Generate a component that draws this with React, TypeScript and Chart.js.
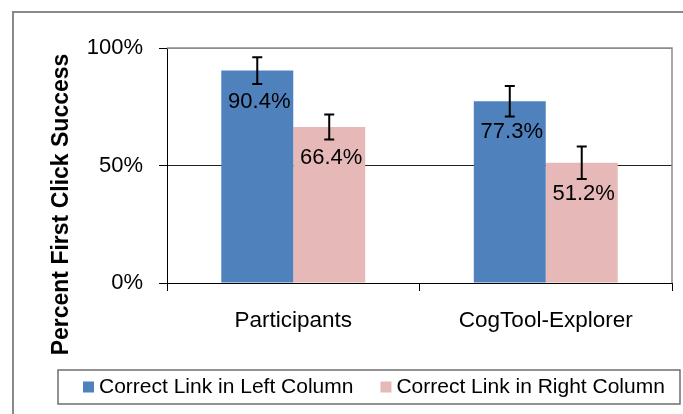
import React, { useEffect, useRef } from 'react';
import { Chart, registerables } from 'chart.js';

Chart.register(...registerables);

const categories = ['Participants', 'CogTool-Explorer'];
const seriesNames = ['Correct Link in Left Column', 'Correct Link in Right Column'];
const leftColumn = [90.4, 77.3];
const rightColumn = [66.4, 51.2];
const leftErr = [5.7, 6.5];
const rightErr = [5.3, 6.9];
const yTicks = [0, 50, 100];
const yTitle = 'Percent First Click Success';
const seriesColors = ['#4F81BD', '#E6B9B8'];

const FONT = '"Liberation Sans", Arial, sans-serif';

const decorPlugin = {
  id: 'decor',
  beforeDraw(chart: any) {
    const ctx = chart.ctx;
    ctx.save();
    ctx.fillStyle = '#ffffff';
    ctx.fillRect(0, 0, chart.width, chart.height);
    ctx.strokeStyle = '#898989';
    ctx.lineWidth = 2;
    ctx.strokeRect(13, 12, chart.width + 20, chart.height + 20);
    ctx.restore();
  },
  afterDatasetsDraw(chart: any) {
    const ctx = chart.ctx;
    const area = chart.chartArea;
    const yScale = chart.scales.y;
    ctx.save();
    // plot area top/right border
    ctx.strokeStyle = '#8c8c8c';
    ctx.lineWidth = 1.5;
    ctx.beginPath();
    ctx.moveTo(area.left, area.top);
    ctx.lineTo(area.right, area.top);
    ctx.lineTo(area.right, area.bottom);
    ctx.stroke();

    chart.data.datasets.forEach((ds: any, di: number) => {
      const meta = chart.getDatasetMeta(di);
      const errs = di === 0 ? leftErr : rightErr;
      meta.data.forEach((bar: any, i: number) => {
        const v = ds.data[i];
        const e = errs[i];
        const x = bar.x;
        const yTop = yScale.getPixelForValue(v + e);
        const yBot = yScale.getPixelForValue(v - e);
        ctx.strokeStyle = '#000';
        ctx.lineWidth = 2;
        ctx.beginPath();
        ctx.moveTo(x, yTop);
        ctx.lineTo(x, yBot);
        ctx.moveTo(x - 5, yTop);
        ctx.lineTo(x + 5, yTop);
        ctx.moveTo(x - 5, yBot);
        ctx.lineTo(x + 5, yBot);
        ctx.stroke();
        ctx.font = `22px ${FONT}`;
        ctx.fillStyle = '#000';
        ctx.textAlign = 'center';
        ctx.textBaseline = 'middle';
        ctx.fillText(v.toFixed(1) + '%', x + 2, bar.y + 31);
      });
    });
    ctx.restore();
  },
  afterDraw(chart: any) {
    const ctx = chart.ctx;
    ctx.save();
    // y axis title
    ctx.translate(68, 204.5);
    ctx.rotate(-Math.PI / 2);
    ctx.font = `bold 23px ${FONT}`;
    ctx.fillStyle = '#000';
    ctx.textAlign = 'center';
    ctx.textBaseline = 'alphabetic';
    ctx.fillText(yTitle, 0, 0);
    ctx.restore();

    // legend
    ctx.save();
    ctx.strokeStyle = '#6d6d6d';
    ctx.lineWidth = 1.5;
    ctx.strokeRect(58, 370, 622, 34);
    ctx.font = `21px ${FONT}`;
    ctx.textAlign = 'left';
    ctx.textBaseline = 'middle';
    let x = 83;
    chart.data.datasets.forEach((ds: any) => {
      ctx.fillStyle = ds.backgroundColor;
      ctx.fillRect(x, 381.5, 11, 11);
      ctx.fillStyle = '#000';
      ctx.fillText(ds.label, x + 16, 387);
      x += 16 + ctx.measureText(ds.label).width + 27;
    });
    ctx.restore();
  },
};

export default function App() {
  const ref = useRef<HTMLCanvasElement>(null);
  useEffect(() => {
    if (!ref.current) return;
    Chart.defaults.font.family = FONT;
    Chart.defaults.color = '#000';
    const chart = new Chart(ref.current, {
      type: 'bar',
      data: {
        labels: categories,
        datasets: [
          { label: seriesNames[0], data: leftColumn, backgroundColor: seriesColors[0], borderWidth: 0 },
          { label: seriesNames[1], data: rightColumn, backgroundColor: seriesColors[1], borderWidth: 0 },
        ],
      },
      options: {
        responsive: false,
        animation: false,
        layout: { padding: { left: 0, right: 11, top: 48, bottom: 71 } },
        datasets: { bar: { barPercentage: 1, categoryPercentage: 0.57 } },
        plugins: { legend: { display: false }, tooltip: { enabled: false }, title: { display: false } },
        scales: {
          x: {
            grid: { offset: true, drawOnChartArea: false, drawTicks: true, tickLength: 8, tickColor: '#000', lineWidth: 1 },
            border: { display: true, color: '#000', width: 1 },
            ticks: { font: { size: 22.5 }, padding: 16, color: '#000', maxRotation: 0 },
            afterFit: (s: any) => { s.height = 60; },
          },
          y: {
            min: 0,
            max: 100,
            afterBuildTicks: (s: any) => { s.ticks = yTicks.map((v) => ({ value: v })); },
            grid: {
              color: (c: any) => (c.tick && c.tick.value === 100 ? '#8c8c8c' : '#222'),
              tickColor: '#000',
              tickLength: 8,
              lineWidth: 1,
            },
            border: { display: true, color: '#000', width: 1 },
            ticks: { font: { size: 22 }, padding: 16, color: '#000', callback: (v: any) => v + '%' },
            afterFit: (s: any) => { s.width = 167; },
          },
        },
      },
      plugins: [decorPlugin],
    });
    return () => chart.destroy();
  }, []);
  return (
    <div style={{ position: 'fixed', left: 0, top: 0, width: 683, height: 414 }}>
      <canvas ref={ref} width={683} height={414} style={{ display: 'block' }} />
    </div>
  );
}
